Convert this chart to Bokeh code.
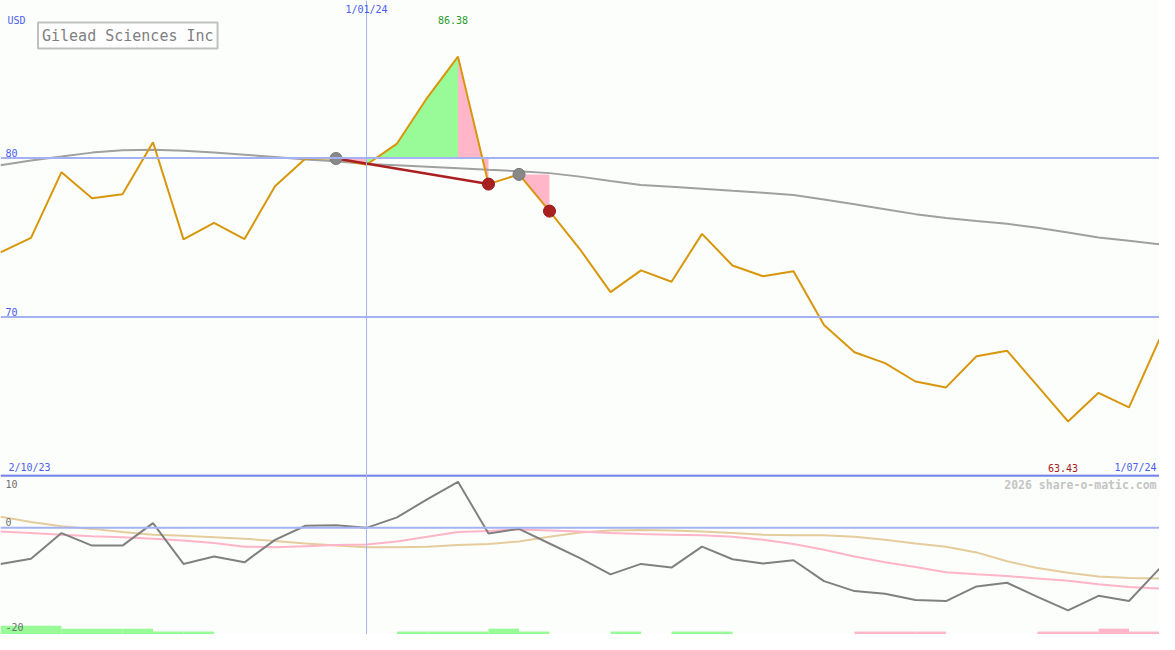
from bokeh.plotting import figure
from bokeh.models import Range1d, Span, Label
from bokeh.layouts import column
from bokeh.embed import file_html
from bokeh.resources import INLINE

# weekly closes, Gilead Sciences Inc (USD)
close = [74.06, 74.98, 79.11, 77.47, 77.72, 80.99, 74.88, 75.92, 74.90, 78.23,
         79.97, 79.97, 79.58, 80.91, 83.82, 86.38, 78.36, 78.97, 76.66, 74.26,
         71.56, 72.93, 72.22, 75.23, 73.24, 72.56, 72.87, 69.50, 67.78, 67.10,
         65.94, 65.57, 67.53, 67.88, 65.67, 63.43, 65.23, 64.31, 68.60]
# long moving average (grey)
ma_long = [79.54, 79.85, 80.09, 80.34, 80.49, 80.52, 80.46, 80.34, 80.21, 80.06,
           79.91, 79.79, 79.63, 79.54, 79.45, 79.36, 79.26, 79.17, 79.05, 78.83,
           78.56, 78.31, 78.19, 78.07, 77.94, 77.82, 77.67, 77.39, 77.09, 76.78,
           76.47, 76.23, 76.04, 75.86, 75.61, 75.31, 75.00, 74.79, 74.57]
# lower panel: % distance from the average and two smoothings of it
osc = [-6.9, -5.9, -1.0, -3.4, -3.4, 0.9, -6.9, -5.5, -6.6, -2.3,
       0.4, 0.5, 0.0, 2.0, 5.5, 8.8, -1.1, -0.2, -3.0, -5.8,
       -8.9, -6.9, -7.6, -3.6, -6.0, -6.8, -6.2, -10.2, -12.1, -12.6,
       -13.8, -14.0, -11.2, -10.5, -13.2, -15.8, -13.0, -14.0, -7.8]
osc_pink = [-0.7, -1.0, -1.3, -1.6, -1.8, -2.1, -2.4, -2.9, -3.6, -3.7,
            -3.5, -3.3, -3.2, -2.6, -1.7, -0.8, -0.6, -0.3, -0.5, -0.7,
            -1.0, -1.2, -1.3, -1.4, -1.7, -2.3, -3.1, -4.2, -5.5, -6.6,
            -7.5, -8.5, -8.9, -9.2, -9.7, -10.1, -10.8, -11.3, -11.6]
osc_tan = [2.1, 1.1, 0.3, -0.2, -0.8, -1.3, -1.5, -1.8, -2.1, -2.5,
           -3.0, -3.4, -3.7, -3.7, -3.6, -3.3, -3.1, -2.6, -1.7, -0.9,
           -0.5, -0.4, -0.5, -0.7, -1.0, -1.3, -1.4, -1.4, -1.7, -2.3,
           -3.0, -3.6, -4.7, -6.4, -7.7, -8.6, -9.3, -9.6, -9.7]
# trend strip at the bottom, one per week (+ green, - pink)
signal = [3, 3, 2, 2, 2, 1, 1, 0, 0, 0, 0, 0, 0, 1, 1, 1, 2, 1, 0,
          0, 1, 0, 1, 1, 0, 0, 0, 0, -1, -1, -1, 0, 0, 0, -1, -1, -2, -1]

start_label, mark_label, end_label = "2/10/23", "1/01/24", "1/07/24"
mark_idx = 12
hi_idx, lo_idx = 15, 35
# trade-ish markers: (from, to)
run1 = (11, 16)
run2 = (17, 18)

x = list(range(len(close)))

W = 1159
H_TOP = 474
H_BOT = 160
KX = W / 1175
KY = (H_TOP + H_BOT) / 650
FONT = "DejaVu Sans Mono"
BG = "#fcfefc"
GRID = "#a4b2f2"
BLUE = "#4b5cf0"
GREEN = "#98fb98"
PINK = "#ffb6c8"
RED = "#aa2020"


def make_fig(h, yr):
    p = figure(width=W, height=h, x_range=Range1d(0, len(close) - 1), y_range=Range1d(*yr),
               x_axis_type=None, y_axis_type=None, output_backend="svg",
               toolbar_location=None, min_border=0, background_fill_color=BG,
               border_fill_color=BG, outline_line_color=None)
    return p


def txt(p, text, sx, sy, h, color=BLUE, size="10px", align="left", **kw):
    p.add_layout(Label(x=sx * KX, y=h - sy * KY, x_units="screen", y_units="screen", text=text,
                       text_font=FONT, text_font_size=size, text_color=color,
                       text_align=align, text_baseline="middle", **kw))


# ---- top panel: price
p = make_fig(H_TOP, (60.09, 89.91))
for lv in (80, 70):
    p.add_layout(Span(location=lv, dimension="width", line_color=GRID, line_width=2))
p.add_layout(Span(location=mark_idx, dimension="height", line_color=GRID, line_width=1))

lvl1 = close[run1[0]]
a, b = run1[0], mark_idx
p.varea(x=x[a:b + 1], y1=[lvl1] * (b - a + 1), y2=close[a:b + 1], fill_color=PINK)
a, b = mark_idx, hi_idx
p.varea(x=x[a:b + 1], y1=[lvl1] * (b - a + 1), y2=close[a:b + 1], fill_color=GREEN)
a, b = hi_idx, run1[1]
p.varea(x=x[a:b + 1], y1=[lvl1] * (b - a + 1), y2=close[a:b + 1], fill_color=PINK)
lvl2 = close[run2[0]]
a, b = run2
p.varea(x=x[a:b + 1], y1=[lvl2] * (b - a + 1), y2=close[a:b + 1], fill_color=PINK)

p.line(x, ma_long, line_color="#a0a0a0", line_width=2)
p.line(x, close, line_color="#d8960a", line_width=2)
p.line([run1[0], run1[1]], [close[run1[0]], close[run1[1]]], line_color=RED, line_width=2.5)
p.scatter([run1[0], run2[0]], [close[run1[0]], close[run2[0]]], size=12, fill_color="#888888",
          line_color="#777777")
p.scatter([run1[1], run2[1]], [close[run1[1]], close[run2[1]]], size=12, fill_color=RED,
          line_color="#901515")

txt(p, "USD", 7, 20, H_TOP)
p.add_layout(Label(x=mark_idx, y=H_TOP - 9 * KY, y_units="screen", text=mark_label, text_font=FONT,
                   text_font_size="10px", text_color=BLUE, text_align="center", text_baseline="middle"))
p.add_layout(Label(x=hi_idx, x_offset=-5, y=H_TOP - 20 * KY, y_units="screen", text=f"{close[hi_idx]:.2f}",
                   text_font=FONT, text_font_size="10px", text_color="#2a9a2a",
                   text_align="center", text_baseline="middle"))
p.add_layout(Label(x=lo_idx, x_offset=-5, y=H_TOP - 479 * KY, y_units="screen", text=f"{close[lo_idx]:.2f}",
                   text_font=FONT, text_font_size="10px", text_color=RED,
                   text_align="center", text_baseline="middle"))
for lv in (80, 70):
    p.add_layout(Label(x=5 * KX, x_units="screen", y=lv, y_offset=1, text=str(lv), text_font=FONT,
                       text_font_size="10px", text_color=BLUE, text_baseline="bottom"))
txt(p, start_label, 8, 479, H_TOP)
txt(p, end_label, 1172, 479, H_TOP, align="right")
txt(p, "Gilead Sciences Inc", 38, 36, H_TOP, color="#808080", size="15px",
    border_line_color="#c0c0c0", border_line_width=2, background_fill_color="#fefefe", padding=4)

# ---- bottom panel: oscillator
q = make_fig(H_BOT, (-20.4, 10.2))
q.add_layout(Span(location=0, dimension="width", line_color=GRID, line_width=2))
q.add_layout(Span(location=10, dimension="width", line_color="#7585ea", line_width=2.5))
q.add_layout(Span(location=mark_idx, dimension="height", line_color=GRID, line_width=1))

bl, br, bt, bc = [], [], [], []
for i, s in enumerate(signal):
    if s:
        bl.append(i)
        br.append(i + 1)
        bt.append(-20.4 + abs(s) * 0.56)
        bc.append(GREEN if s > 0 else PINK)
q.quad(left=bl, right=br, bottom=-20.4, top=bt, fill_color=bc, line_color=None)

q.line(x, osc_tan, line_color="#e4cc9c", line_width=2)
q.line(x, osc_pink, line_color="#ffb4c8", line_width=2)
q.line(x, osc, line_color="#808080", line_width=2)

txt(q, "10", 5, 10, H_BOT, color="#707070")
txt(q, "0", 5, 49, H_BOT, color="#707070")
txt(q, "-20", 5, 156, H_BOT, color="#707070")
txt(q, "2026 share-o-matic.com", 1172, 11, H_BOT, color="#c4c4c4", size="11.5px",
    align="right", text_font_style="bold")

layout = column(p, q, spacing=0)
open("out.html", "w").write(file_html(layout, INLINE))
